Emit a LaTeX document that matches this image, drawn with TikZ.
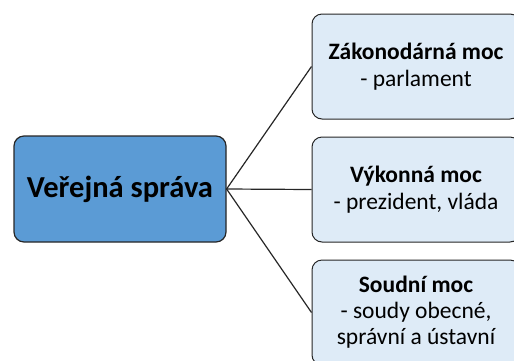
\documentclass[tikz,border=0pt]{standalone}
\usepackage{fontspec}
\setmainfont{Carlito}
\usetikzlibrary{positioning}
\definecolor{mainfill}{HTML}{5B9BD5}
\definecolor{subfill}{HTML}{DEEBF7}
\definecolor{edge}{HTML}{262626}
\begin{document}
\begin{tikzpicture}[x=1pt, y=-1pt, every node/.style={align=center, inner sep=4pt}]
\useasboundingbox (0,0) rectangle (514,360);
\clip (0,0) rectangle (514,360);
\node[draw=edge, line width=1.2pt, rounded corners=10pt, fill=mainfill, minimum width=212pt, minimum height=106pt, font=\fontsize{30.5}{36}\selectfont\bfseries] (vs) at (120,189) {Veřejná správa};
\node[draw=edge, line width=1pt, rounded corners=10pt, fill=subfill, minimum width=208pt, minimum height=105pt, font=\fontsize{23.5}{26.5}\selectfont] (zak) at (416,66.5) {\textbf{Zákonodárná moc}\\- parlament};
\node[draw=edge, line width=1pt, rounded corners=10pt, fill=subfill, minimum width=208pt, minimum height=105pt, font=\fontsize{23.5}{26.5}\selectfont] (vyk) at (416,189.5) {\textbf{Výkonná moc}\\- prezident, vláda};
\node[draw=edge, line width=1pt, rounded corners=10pt, fill=subfill, minimum width=208pt, minimum height=105pt, font=\fontsize{23.5}{26}\selectfont] (sou) at (416,312.5) {\textbf{Soudní moc}\\- soudy obecné,\\správní a ústavní};
\draw[edge, line width=1.2pt] (vs.east) -- (zak.west);
\draw[edge, line width=1.2pt] (vs.east) -- (vyk.west);
\draw[edge, line width=1.2pt] (vs.east) -- (sou.west);
\end{tikzpicture}
\end{document}
